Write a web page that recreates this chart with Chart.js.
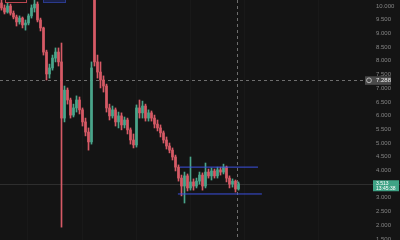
<!DOCTYPE html>
<html>
<head>
<meta charset="utf-8">
<script src="https://cdn.jsdelivr.net/npm/chart.js@4.4.1/dist/chart.umd.min.js"></script>
<style>
  html, body { margin: 0; padding: 0; background: #141414; }
  #wrap { width: 400px; height: 240px; }
</style>
</head>
<body>
<div id="wrap"><canvas id="chart" width="400" height="240"></canvas></div>
<script>
// candles, one per bar
const opens = [
  10.11, 9.93, 9.78, 10.00, 9.74, 9.60, 9.42, 9.56, 9.31, 9.38,
  9.64, 9.93, 10.07, 9.49, 9.20, 8.32, 7.52, 7.74, 8.10, 8.32,
  7.96, 5.91, 6.93, 6.57, 6.02, 6.28, 6.57, 6.21, 5.77, 5.40,
  5.04, 10.45, 7.96, 7.59, 7.30, 7.08, 6.28, 5.99, 6.21, 5.77,
  5.99, 5.66, 5.84, 5.48, 5.11, 4.93, 6.28, 6.10, 6.35, 5.91,
  6.10, 5.91, 5.69, 5.55, 5.37, 5.11, 4.89, 4.74, 4.49, 4.12,
  3.72, 3.43, 3.80, 3.36, 3.58, 3.43, 3.61, 3.83, 3.43, 3.94,
  3.80, 3.98, 3.80, 4.02, 3.94, 4.12, 3.72, 3.50, 3.61, 3.32
];
const highs = [
  10.29, 10.04, 10.11, 10.07, 9.82, 9.67, 9.64, 9.60, 9.49, 9.71,
  10.04, 10.22, 10.15, 9.56, 9.23, 8.39, 7.88, 8.21, 8.47, 8.47,
  8.65, 7.08, 7.01, 6.64, 6.42, 6.72, 6.68, 6.28, 5.91, 5.55,
  7.96, 11.60, 8.21, 7.96, 7.45, 7.15, 6.42, 6.35, 6.28, 6.13,
  6.10, 5.95, 5.91, 5.55, 5.33, 6.39, 6.57, 6.53, 6.42, 6.21,
  6.17, 6.02, 5.84, 5.66, 5.44, 5.22, 5.00, 4.82, 4.56, 4.20,
  3.83, 3.94, 3.87, 4.49, 3.69, 3.72, 3.94, 3.91, 4.27, 4.05,
  4.09, 4.05, 4.12, 4.12, 4.23, 4.16, 3.80, 3.69, 3.65, 3.58
];
const lows = [
  9.85, 9.71, 9.74, 9.67, 9.53, 9.27, 9.34, 9.20, 9.12, 9.31,
  9.56, 9.78, 9.42, 9.09, 8.21, 7.30, 7.37, 7.66, 7.96, 7.81,
  1.93, 5.77, 6.42, 5.91, 5.95, 6.13, 6.06, 5.62, 5.26, 4.74,
  4.96, 7.81, 7.37, 7.01, 6.86, 6.13, 5.84, 5.91, 5.62, 5.55,
  5.48, 5.55, 5.33, 4.96, 4.82, 4.85, 5.91, 5.91, 5.80, 5.80,
  5.80, 5.55, 5.44, 5.22, 5.00, 4.78, 4.64, 4.38, 3.98, 3.61,
  3.07, 2.81, 3.25, 3.28, 3.28, 3.36, 3.50, 3.28, 3.36, 3.72,
  3.65, 3.72, 3.72, 3.83, 3.87, 3.58, 3.36, 3.39, 3.21, 3.28
];
const closes = [
  9.93, 9.78, 10.00, 9.74, 9.60, 9.42, 9.56, 9.31, 9.38, 9.64,
  9.93, 10.07, 9.49, 9.20, 8.32, 7.52, 7.74, 8.10, 8.32, 7.96,
  5.91, 6.93, 6.57, 6.02, 6.28, 6.57, 6.21, 5.77, 5.40, 5.04,
  7.74, 7.96, 7.59, 7.30, 7.08, 6.28, 5.99, 6.21, 5.77, 5.99,
  5.66, 5.84, 5.48, 5.11, 4.93, 6.28, 6.10, 6.35, 5.91, 6.10,
  5.91, 5.69, 5.55, 5.37, 5.11, 4.89, 4.74, 4.49, 4.12, 3.72,
  3.43, 3.80, 3.36, 3.58, 3.43, 3.61, 3.83, 3.43, 3.94, 3.80,
  3.98, 3.80, 4.02, 3.94, 4.12, 3.72, 3.50, 3.61, 3.32, 3.513
];

const priceTicks = [10, 9.5, 9, 8.5, 8, 7.5, 7, 6.5, 6, 5.5, 5, 4.5, 4, 3.5, 3, 2.5, 2, 1.5];

// drawn range box (two horizontal levels)
const channelTop = 4.12;
const channelBottom = 3.14;
const channelTopX = [59.5, 85.5];
const channelBottomX = [58.8, 86.8];

// crosshair
const crossIndex = 78.5;
const crossPrice = 7.288;
const countdown = '13:45:38';

const UP = '#4aa58b';
const DOWN = '#d65a66';
const idx = closes.map((_, i) => i);
const colors = closes.map((c, i) => c >= opens[i] ? UP : DOWN);

const overlay = {
  id: 'overlay',
  beforeDatasetsDraw(chart) {
    const { ctx, chartArea: a, scales: { x, y } } = chart;
    ctx.save();
    // last price line
    const py = Math.round(y.getPixelForValue(closes[closes.length - 1])) + 0.5;
    ctx.strokeStyle = '#2e2e2e';
    ctx.lineWidth = 1;
    ctx.beginPath(); ctx.moveTo(a.left, py); ctx.lineTo(chart.width, py); ctx.stroke();
    // crosshair
    ctx.setLineDash([3, 3]);
    ctx.strokeStyle = '#6e6e6e';
    const cx = Math.round(x.getPixelForValue(crossIndex)) + 0.5;
    const cy = Math.round(y.getPixelForValue(crossPrice)) + 0.5;
    ctx.beginPath(); ctx.moveTo(a.left, cy); ctx.lineTo(a.right, cy); ctx.stroke();
    ctx.beginPath(); ctx.moveTo(cx, 0); ctx.lineTo(cx, chart.height); ctx.stroke();
    ctx.restore();
  },
  afterDraw(chart) {
    const { ctx, chartArea: a, scales: { y } } = chart;
    ctx.save();
    // crosshair price tag
    const cy = y.getPixelForValue(crossPrice);
    ctx.fillStyle = '#4a4a4a';
    ctx.fillRect(a.right, cy - 4, 26, 8.5);
    ctx.strokeStyle = '#cfcfcf';
    ctx.lineWidth = 0.8;
    ctx.beginPath(); ctx.arc(a.right + 4, cy, 2.4, 0, Math.PI * 2); ctx.stroke();
    ctx.fillStyle = '#eeeeee';
    ctx.font = '6px "Liberation Sans"';
    ctx.textBaseline = 'middle';
    ctx.fillText(crossPrice.toFixed(3), a.right + 11, cy + 0.5);

    // last price tag
    const last = closes[closes.length - 1];
    const py = y.getPixelForValue(last);
    ctx.fillStyle = '#3fa386';
    ctx.fillRect(a.right + 8, py - 3.5, 26, 11);
    ctx.fillStyle = '#ffffff';
    ctx.font = '5px "Liberation Sans"';
    ctx.fillText(last.toFixed(3), a.right + 11, py + 0.3);
    ctx.fillText(countdown, a.right + 11, py + 5);

    // cut-off drawing labels at the top
    ctx.strokeStyle = '#b8454f';
    ctx.lineWidth = 1;
    ctx.fillStyle = '#1a1414';
    ctx.fillRect(5, -6, 21, 9);
    ctx.strokeRect(5.5, -6.5, 21, 9);
    ctx.fillStyle = '#1a2148';
    ctx.fillRect(43, -6, 22, 9);
    ctx.strokeStyle = '#2b3a8c';
    ctx.strokeRect(43.5, -6.5, 22, 9);
    ctx.restore();
  }
};

new Chart(document.getElementById('chart'), {
  type: 'bar',
  data: {
    datasets: [
      {
        type: 'line',
        data: channelTopX.map(v => ({ x: v, y: channelTop })),
        borderColor: '#3b50e0', borderWidth: 1, pointRadius: 0, order: 0
      },
      {
        type: 'line',
        data: channelBottomX.map(v => ({ x: v, y: channelBottom })),
        borderColor: '#3b50e0', borderWidth: 1, pointRadius: 0, order: 0
      },
      {
        data: idx.map(i => ({ x: i, y: [opens[i], closes[i]] })),
        backgroundColor: colors, barThickness: 2, grouped: false, minBarLength: 1, order: 1
      },
      {
        data: idx.map(i => ({ x: i, y: [lows[i], highs[i]] })),
        backgroundColor: colors, barThickness: 1, grouped: false, order: 2
      }
    ]
  },
  options: {
    responsive: false, animation: false, devicePixelRatio: 1,
    layout: { padding: 0 },
    plugins: { legend: { display: false }, tooltip: { enabled: false } },
    scales: {
      x: {
        type: 'linear', min: -0.5, max: 121.17, offset: false,
        grid: { color: '#191919', drawTicks: false },
        border: { display: false },
        ticks: { display: false, stepSize: 18 }
      },
      y: {
        position: 'right', min: 1.46, max: 10.22,
        grid: { display: false, drawTicks: false },
        border: { display: false },
        afterBuildTicks: s => { s.ticks = priceTicks.map(v => ({ value: v })); },
        afterFit: s => { s.width = 35; s.paddingTop = 0; s.paddingBottom = 0; },
        ticks: {
          color: '#868686', padding: 11,
          font: { family: 'Liberation Sans', size: 6 },
          callback: v => v.toFixed(3)
        }
      }
    }
  },
  plugins: [overlay]
});
</script>
</body>
</html>
